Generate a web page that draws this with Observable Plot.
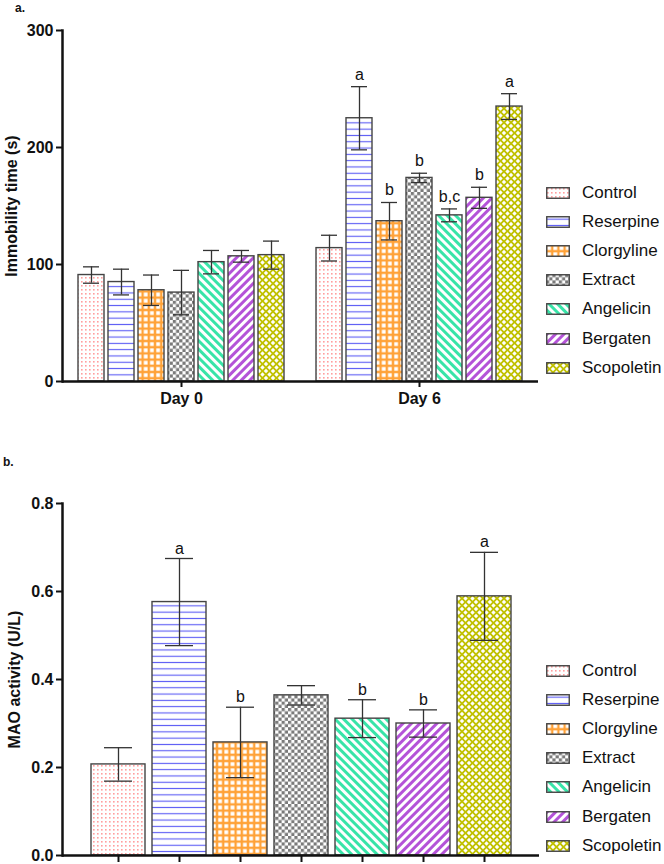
<!DOCTYPE html>
<html>
<head>
<meta charset="utf-8">
<script src="https://cdn.jsdelivr.net/npm/d3@7"></script>
<script src="https://cdn.jsdelivr.net/npm/@observablehq/plot@0.6"></script>
<style>
  body { margin: 0; background: #fff; font-family: "Liberation Sans", Arial, sans-serif; }
  .panel { position: relative; width: 664px; }
  .panel svg.plot { display: block; }
  .tag { position: absolute; font-weight: bold; font-size: 12px; color: #111; }
  .legend { position: absolute; left: 546px; font-size: 17px; color: #111; }
  .legend .row { position: absolute; left: 0; height: 20px; display: flex; align-items: center; white-space: nowrap; }
  .legend svg { margin-right: 12px; }
</style>
</head>
<body>
<svg width="0" height="0" style="position:absolute">
  <defs>
    <pattern id="pat0" patternUnits="userSpaceOnUse" width="4" height="4">
      <rect width="4" height="4" fill="#fff"/>
      <rect x="1" y="1" width="1.6" height="1.6" fill="#ff9f9f"/>
    </pattern>
    <pattern id="pat1" patternUnits="userSpaceOnUse" width="6" height="6.3">
      <rect width="6" height="6.3" fill="#fff"/>
      <rect y="2.6" width="6" height="1.1" fill="#5a5af5"/>
    </pattern>
    <pattern id="pat2" patternUnits="userSpaceOnUse" width="6.2" height="6.2">
      <rect width="6.2" height="6.2" fill="#ffa238"/>
      <rect x="1.2" y="1.2" width="3.8" height="3.8" fill="#fff"/>
    </pattern>
    <pattern id="pat3" patternUnits="userSpaceOnUse" width="6.4" height="6.4">
      <rect width="6.4" height="6.4" fill="#fff"/>
      <rect width="3.2" height="3.2" fill="#7a7a7a"/>
      <rect x="3.2" y="3.2" width="3.2" height="3.2" fill="#7a7a7a"/>
    </pattern>
    <pattern id="pat4" patternUnits="userSpaceOnUse" width="6" height="6" patternTransform="rotate(-45)">
      <rect width="6" height="6" fill="#fff"/>
      <rect width="3" height="6" fill="#38e4a8"/>
    </pattern>
    <pattern id="pat5" patternUnits="userSpaceOnUse" width="6" height="6" patternTransform="rotate(45)">
      <rect width="6" height="6" fill="#fff"/>
      <rect width="3" height="6" fill="#b453d8"/>
    </pattern>
    <pattern id="pat6" patternUnits="userSpaceOnUse" width="7" height="7">
      <rect width="7" height="7" fill="#c0c000"/>
      <polygon points="3.5,1.3 5.7,3.5 3.5,5.7 1.3,3.5" fill="#fff"/>
      <polygon points="0,-2.2 2.2,0 0,2.2 -2.2,0" fill="#fff"/>
      <polygon points="7,-2.2 9.2,0 7,2.2 4.8,0" fill="#fff"/>
      <polygon points="0,4.8 2.2,7 0,9.2 -2.2,7" fill="#fff"/>
      <polygon points="7,4.8 9.2,7 7,9.2 4.8,7" fill="#fff"/>
    </pattern>
  </defs>
</svg>

<div class="panel" id="panelA"><div class="tag" style="left:15px;top:1px">a.</div></div>
<div class="panel" id="panelB"><div class="tag" style="left:3px;top:35px">b.</div></div>

<script>
// ---- data ----
const groups = ["Control", "Reserpine", "Clorgyline", "Extract", "Angelicin", "Bergaten", "Scopoletin"];
const days = ["Day 0", "Day 6"];

const immobilityDay0 = [91, 85, 78, 76, 102, 107, 108];
const immobilityDay0Err = [7, 11, 13, 19, 10, 5, 12];
const immobilityDay6 = [114, 225, 137, 174, 142, 157, 235];
const immobilityDay6Err = [11, 27, 16, 4, 5.5, 9, 11];
const day0Letters = ["", "", "", "", "", "", ""];
const day6Letters = ["", "a", "b", "b", "b,c", "b", "a"];

const maoActivity = [0.207, 0.576, 0.257, 0.364, 0.311, 0.300, 0.589];
const maoErr = [0.038, 0.099, 0.080, 0.022, 0.043, 0.031, 0.100];
const maoLetters = ["", "a", "b", "", "b", "b", "a"];

const immobilityTicks = [0, 100, 200, 300];
const maoTicks = [0, 0.2, 0.4, 0.6, 0.8];

const patternUrls = groups.map((g, i) => `url(#pat${i})`);

// ---- tables ----
const immobility = [
  ...groups.map((g, i) => ({day: days[0], group: g, v: immobilityDay0[i], e: immobilityDay0Err[i], letter: day0Letters[i]})),
  ...groups.map((g, i) => ({day: days[1], group: g, v: immobilityDay6[i], e: immobilityDay6Err[i], letter: day6Letters[i]}))
];
const mao = groups.map((g, i) => ({group: g, v: maoActivity[i], e: maoErr[i], letter: maoLetters[i]}));

const font = "'Liberation Sans', Arial, sans-serif";
const ink = "#111";

// ---- chart a ----
const chartA = Plot.plot({
  width: 664, height: 420,
  marginTop: 30, marginBottom: 39, marginLeft: 62, marginRight: 126,
  style: {fontFamily: font, fontSize: "16px", color: ink, background: "white"},
  fx: {domain: days, padding: 0, label: null},
  x: {domain: groups, paddingInner: 0.124, paddingOuter: 0.42, axis: null},
  y: {domain: [0, 300]},
  color: {domain: groups, range: patternUrls},
  marks: [
    Plot.barY(immobility, {fx: "day", x: "group", y: "v", fill: "group", stroke: "#444", strokeWidth: 1.4}),
    Plot.ruleX(immobility, {fx: "day", x: "group", y1: d => d.v - d.e, y2: d => d.v + d.e, stroke: "#333", strokeWidth: 1.3}),
    Plot.tickY(immobility, {fx: "day", x: "group", y: d => d.v + d.e, stroke: "#333", strokeWidth: 1.3, insetLeft: 5, insetRight: 5}),
    Plot.tickY(immobility, {fx: "day", x: "group", y: d => d.v - d.e, stroke: "#333", strokeWidth: 1.3, insetLeft: 5, insetRight: 5}),
    Plot.text(immobility, {fx: "day", x: "group", y: d => d.v + d.e, text: "letter", lineAnchor: "bottom", dy: -7, fontSize: 16, fill: ink}),
    Plot.ruleY([0], {stroke: ink, strokeWidth: 2.5}),
    Plot.frame({anchor: "left", facetAnchor: "left", stroke: ink, strokeWidth: 2.5}),
    Plot.axisY({ticks: immobilityTicks, tickSize: 6, tickPadding: 3, strokeWidth: 2, stroke: ink, fontWeight: "bold", fontSize: 16,
      label: "Immobility time (s)", labelAnchor: "center", labelArrow: "none", labelOffset: 57}),
    Plot.axisFx({anchor: "bottom", tickSize: 6, tickPadding: 5, strokeWidth: 2, stroke: ink, fontWeight: "bold", fontSize: 16, label: null})
  ]
});
chartA.classList.add("plot");
document.getElementById("panelA").appendChild(chartA);

// ---- chart b ----
const chartB = Plot.plot({
  width: 664, height: 444,
  marginTop: 83, marginBottom: 9, marginLeft: 62, marginRight: 125,
  style: {fontFamily: font, fontSize: "16px", color: ink, background: "white"},
  x: {domain: groups, paddingInner: 0.115, paddingOuter: 0.467},
  y: {domain: [0, 0.8]},
  color: {domain: groups, range: patternUrls},
  marks: [
    Plot.barY(mao, {x: "group", y: "v", fill: "group", stroke: "#444", strokeWidth: 1.4}),
    Plot.ruleX(mao, {x: "group", y1: d => d.v - d.e, y2: d => d.v + d.e, stroke: "#333", strokeWidth: 1.3}),
    Plot.tickY(mao, {x: "group", y: d => d.v + d.e, stroke: "#333", strokeWidth: 1.3, insetLeft: 13, insetRight: 13}),
    Plot.tickY(mao, {x: "group", y: d => d.v - d.e, stroke: "#333", strokeWidth: 1.3, insetLeft: 13, insetRight: 13}),
    Plot.text(mao, {x: "group", y: d => d.v + d.e, text: "letter", lineAnchor: "bottom", dy: -5, fontSize: 16, fill: ink}),
    Plot.ruleY([0], {stroke: ink, strokeWidth: 2.5}),
    Plot.frame({anchor: "left", stroke: ink, strokeWidth: 2.5}),
    Plot.axisY({ticks: maoTicks, tickFormat: d3.format(".1f"), tickSize: 6, tickPadding: 3, strokeWidth: 2, stroke: ink, fontWeight: "bold", fontSize: 16,
      label: "MAO activity (U/L)", labelAnchor: "center", labelArrow: "none", labelOffset: 54}),
    Plot.axisX({tickSize: 7, strokeWidth: 2, stroke: ink, tickFormat: () => "", label: null})
  ]
});
chartB.classList.add("plot");
document.getElementById("panelB").appendChild(chartB);

// ---- legends ----
function legend(panelId, top) {
  const box = document.createElement("div");
  box.className = "legend";
  box.style.top = top + "px";
  groups.forEach((g, i) => {
    const row = document.createElement("div");
    row.className = "row";
    row.style.top = (i * 29.1) + "px";
    row.innerHTML = `<svg width="24" height="12"><rect x="0.75" y="0.75" width="22.5" height="10.5" fill="${patternUrls[i]}" stroke="#444" stroke-width="1.4"/></svg><span>${g}</span>`;
    box.appendChild(row);
  });
  document.getElementById(panelId).appendChild(box);
}
legend("panelA", 183);
legend("panelB", 241);
</script>
</body>
</html>
